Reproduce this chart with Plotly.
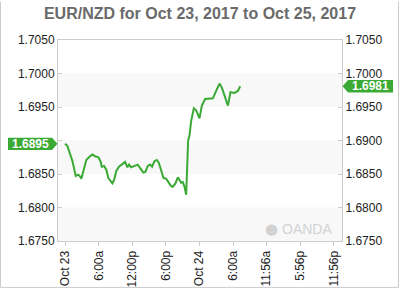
import plotly.graph_objects as go

# ---- data ----
times = [
    "2017-10-23 00:00", "2017-10-23 00:25", "2017-10-23 01:18", "2017-10-23 01:55",
    "2017-10-23 02:19", "2017-10-23 02:37", "2017-10-23 02:55", "2017-10-23 03:13",
    "2017-10-23 03:48", "2017-10-23 04:25", "2017-10-23 04:53", "2017-10-23 05:29",
    "2017-10-23 05:57", "2017-10-23 06:23", "2017-10-23 06:33", "2017-10-23 06:58",
    "2017-10-23 07:23", "2017-10-23 07:44", "2017-10-23 08:10", "2017-10-23 08:27",
    "2017-10-23 08:45", "2017-10-23 09:10", "2017-10-23 09:38", "2017-10-23 10:14",
    "2017-10-23 10:43", "2017-10-23 11:08", "2017-10-23 11:26", "2017-10-23 11:47",
    "2017-10-23 12:23", "2017-10-23 12:59", "2017-10-23 13:34", "2017-10-23 13:59",
    "2017-10-23 14:20", "2017-10-23 14:46", "2017-10-23 15:11", "2017-10-23 15:32",
    "2017-10-23 15:57", "2017-10-23 16:23", "2017-10-23 16:44", "2017-10-23 17:09",
    "2017-10-23 17:34", "2017-10-23 18:02", "2017-10-23 18:31", "2017-10-23 18:56",
    "2017-10-23 19:14", "2017-10-23 19:42", "2017-10-23 20:08", "2017-10-23 20:25",
    "2017-10-23 20:43", "2017-10-23 21:01", "2017-10-23 21:19", "2017-10-23 21:37",
    "2017-10-23 21:58", "2017-10-23 22:12", "2017-10-23 22:30", "2017-10-23 22:59",
    "2017-10-23 23:24", "2017-10-23 23:59", "2017-10-24 00:25", "2017-10-24 01:00",
    "2017-10-24 01:46", "2017-10-24 02:23", "2017-10-24 02:58", "2017-10-24 03:34",
    "2017-10-24 03:59", "2017-10-24 04:35", "2017-10-24 05:04", "2017-10-24 05:31",
    "2017-10-24 06:14", "2017-10-24 06:50", "2017-10-24 07:16",
]
prices = [
    1.6895, 1.6892, 1.6870, 1.6847, 1.6849, 1.6847, 1.6843, 1.6854,
    1.6871, 1.6876, 1.6879, 1.6876, 1.6875, 1.6868, 1.6861, 1.6862,
    1.6856, 1.6844, 1.6840, 1.6836, 1.6841, 1.6855, 1.6861, 1.6865,
    1.6868, 1.6860, 1.6864, 1.6860, 1.6862, 1.6864, 1.6857, 1.6852,
    1.6853, 1.6862, 1.6864, 1.6861, 1.6869, 1.6871, 1.6867, 1.6855,
    1.6844, 1.6843, 1.6837, 1.6832, 1.6831, 1.6836, 1.6845, 1.6840,
    1.6837, 1.6838, 1.6831, 1.6819, 1.6900, 1.6907, 1.6929, 1.6948,
    1.6945, 1.6933, 1.6952, 1.6962, 1.6963, 1.6963, 1.6974, 1.6985,
    1.6979, 1.6963, 1.6952, 1.6972, 1.6971, 1.6974, 1.6981,
]
x_tick_vals = [
    "2017-10-23 00:00", "2017-10-23 06:00", "2017-10-23 12:00", "2017-10-23 18:00",
    "2017-10-24 00:00", "2017-10-24 06:00", "2017-10-24 11:56", "2017-10-24 17:56",
    "2017-10-24 23:56",
]
x_tick_text = ["Oct 23", "6:00a", "12:00p", "6:00p", "Oct 24", "6:00a", "11:56a", "5:56p", "11:56p"]
y_ticks = [1.6750, 1.6800, 1.6850, 1.6900, 1.6950, 1.7000, 1.7050]
y_left_hidden = [1.6900]  # hidden behind the open-price tag
y_range = [1.6750, 1.7050]
x_range = ["2017-10-22 22:45", "2017-10-25 01:25"]
band_ranges = [(1.6750, 1.6800), (1.6850, 1.6900), (1.6950, 1.7000)]
open_price = prices[0]
last_price = prices[-1]
title_text = "EUR/NZD for Oct 23, 2017 to Oct 25, 2017"

GREEN = "#3aaa35"
FONT = "Liberation Sans, Arial, sans-serif"

# ---- layout geometry ----
W, H = 400, 300
ML, MR, MT, MB = 58, 58, 40, 50
PW = W - ML - MR


def px_to_paper(px):
    return (px - ML) / PW


fig = go.Figure()
fig.add_trace(go.Scatter(x=times, y=prices, mode="lines",
                         line=dict(color=GREEN, width=2), hoverinfo="skip",
                         showlegend=False))
fig.add_trace(go.Scatter(x=times, y=prices, mode="lines", yaxis="y2",
                         line=dict(color="rgba(0,0,0,0)", width=0), hoverinfo="skip",
                         showlegend=False))

shapes = []
for lo, hi in band_ranges:
    shapes.append(dict(type="rect", xref="paper", yref="y", x0=0, x1=1, y0=lo, y1=hi,
                       fillcolor="#f8f8f8", line=dict(width=0), layer="below"))

# price tag shapes
half = 6.5 / 7000.0
lx0, lx1, ltip = px_to_paper(8), px_to_paper(52), px_to_paper(57.5)
shapes.append(dict(type="path", xref="paper", yref="y", fillcolor=GREEN, line=dict(width=0),
                   path=f"M {lx0},{open_price - half} L {lx1},{open_price - half} L {ltip},{open_price} "
                        f"L {lx1},{open_price + half} L {lx0},{open_price + half} Z"))
rtip, rx0, rx1 = px_to_paper(342.5), px_to_paper(348), px_to_paper(393)
shapes.append(dict(type="path", xref="paper", yref="y", fillcolor=GREEN, line=dict(width=0),
                   path=f"M {rtip},{last_price} L {rx0},{last_price - half} L {rx1},{last_price - half} "
                        f"L {rx1},{last_price + half} L {rx0},{last_price + half} Z"))

# outer frame (left, bottom, right)
fx0, fx1 = px_to_paper(0.5), px_to_paper(398.5)
fy_bottom = -(298.5 - (H - MB)) / (H - MT - MB)
fy_top = (H - MB - 0) / (H - MT - MB)
shapes.append(dict(type="path", xref="paper", yref="paper", line=dict(color="#cccccc", width=1),
                   path=f"M {fx0},{fy_top} L {fx0},{fy_bottom} L {fx1},{fy_bottom} L {fx1},{fy_top}"))

annotations = [
    dict(xref="paper", yref="y", x=(lx0 + lx1) / 2, y=open_price, text=f"<b>{open_price:.4f}</b>",
         showarrow=False, font=dict(family=FONT, size=12, color="white"), xanchor="center", yanchor="middle"),
    dict(xref="paper", yref="y", x=(rx0 + rx1) / 2, y=last_price, text=f"<b>{last_price:.4f}</b>",
         showarrow=False, font=dict(family=FONT, size=12, color="white"), xanchor="center", yanchor="middle"),
    dict(xref="paper", yref="paper", x=px_to_paper(334), y=(250 - 237) / 210, text="OANDA",
         showarrow=False, font=dict(family=FONT, size=14, color="#d2d2d2"), xanchor="right", yanchor="middle"),
    dict(xref="paper", yref="paper", x=px_to_paper(271), y=(250 - 237.5) / 210, text="●",
         showarrow=False, font=dict(family="DejaVu Sans", size=15, color="#d2d2d2"), xanchor="center", yanchor="middle"),
]

axis_common = dict(
    range=y_range, tickvals=y_ticks,
    showgrid=False, zeroline=False, showline=True, linecolor="#cccccc", linewidth=1,
    ticks="inside", ticklen=4, tickcolor="#cccccc",
    tickfont=dict(family=FONT, size=12, color="#222222"), fixedrange=True,
)

fig.update_layout(
    width=W, height=H,
    margin=dict(l=ML, r=MR, t=MT, b=MB),
    paper_bgcolor="white", plot_bgcolor="white",
    title=dict(text=f"<b>{title_text}</b>", x=0.5, xanchor="center", y=1 - 13 / H, yanchor="middle",
               font=dict(family=FONT, size=16, color="#6a6a6a")),
    xaxis=dict(type="date", range=x_range, tickvals=x_tick_vals, ticktext=x_tick_text,
               tickangle=-90, showgrid=False, zeroline=False, showline=True, mirror=True,
               linecolor="#cccccc", linewidth=1, ticks="outside", ticklen=4, tickcolor="#cccccc",
               tickfont=dict(family=FONT, size=12, color="#222222")),
    yaxis=dict(side="left",
               ticktext=["" if v in y_left_hidden else f"{v:.4f}" for v in y_ticks],
               **axis_common),
    yaxis2=dict(side="right", overlaying="y",
                ticktext=[f"{v:.4f}" for v in y_ticks],
                **axis_common),
    shapes=shapes, annotations=annotations, showlegend=False,
)

fig.write_html("out.html", config={"displayModeBar": False})
